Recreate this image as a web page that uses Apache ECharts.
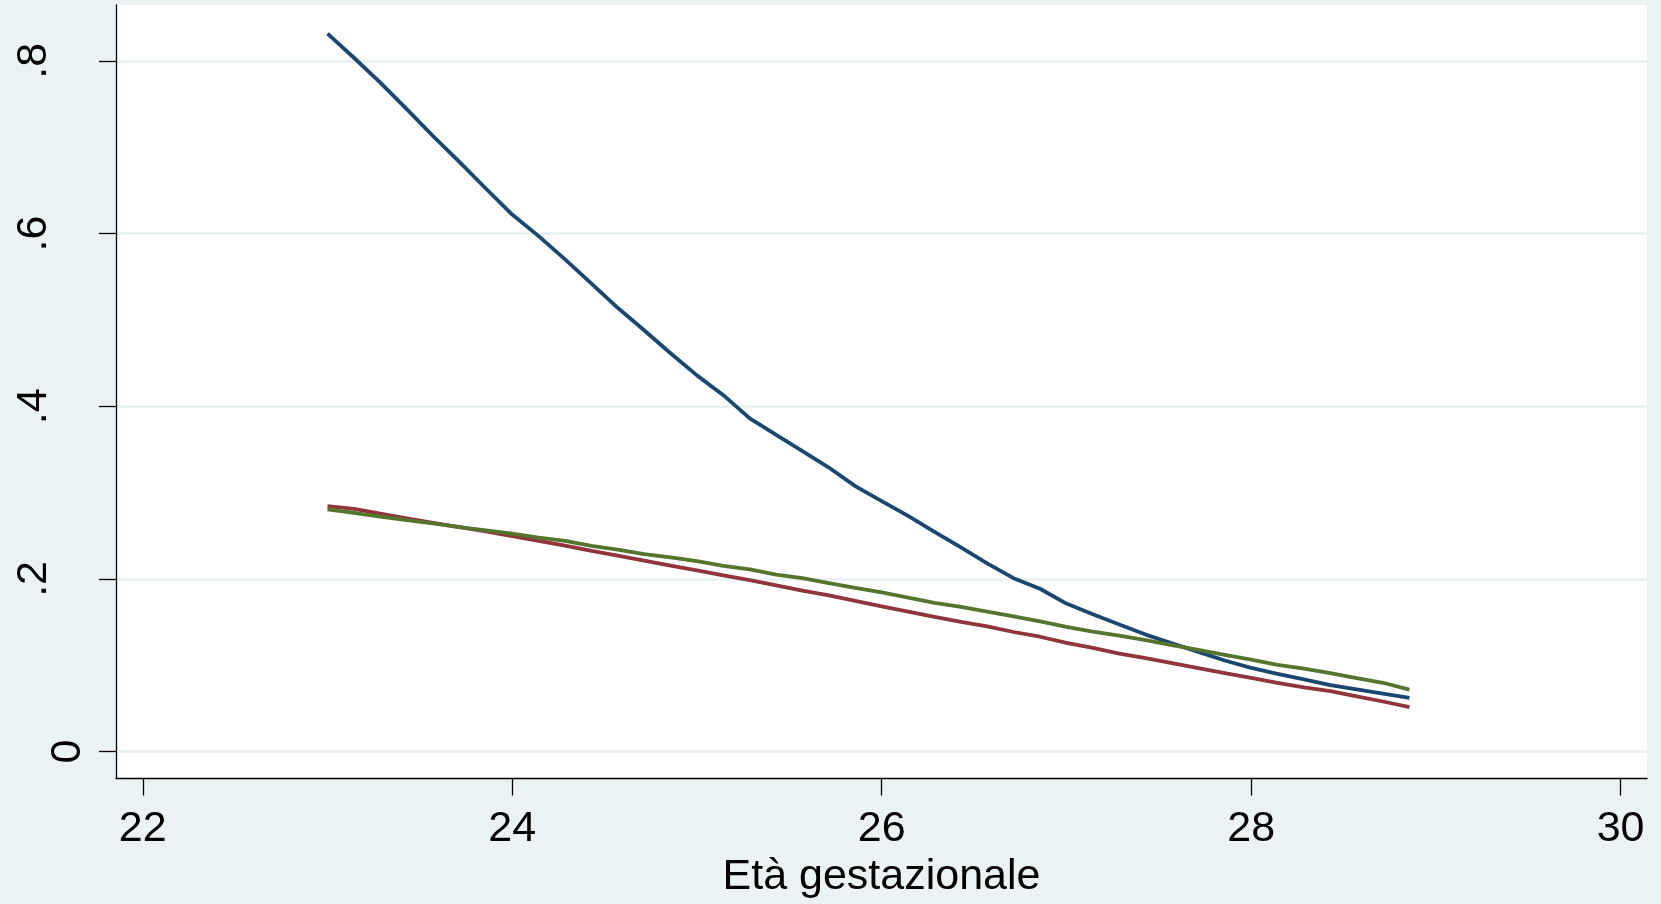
<!DOCTYPE html>
<html>
<head>
<meta charset="utf-8">
<script src="https://cdn.jsdelivr.net/npm/echarts@6/dist/echarts.min.js"></script>
<style>
    html, body { margin: 0; padding: 0; background: #eaf2f3; }
    #chart { width: 1661px; height: 904px; }
</style>
</head>
<body>
<div id="chart"></div>
<script>
// gestational age in weeks, one point per day
let gestAge = [
    23.000, 23.143, 23.286, 23.429, 23.571, 23.714, 23.857,
    24.000, 24.143, 24.286, 24.429, 24.571, 24.714, 24.857,
    25.000, 25.143, 25.286, 25.429, 25.571, 25.714, 25.857,
    26.000, 26.143, 26.286, 26.429, 26.571, 26.714, 26.857,
    27.000, 27.143, 27.286, 27.429, 27.571, 27.714, 27.857,
    28.000, 28.143, 28.286, 28.429, 28.571, 28.714, 28.857
];

let navyValues = [
    0.8315, 0.8036, 0.7748, 0.7441, 0.7130, 0.6829, 0.6522,
    0.6220, 0.5970, 0.5700, 0.5420, 0.5140, 0.4880, 0.4614,
    0.4357, 0.4128, 0.3859, 0.3668, 0.3480, 0.3290, 0.3074,
    0.2901, 0.2729, 0.2545, 0.2365, 0.2180, 0.2008, 0.1886,
    0.1714, 0.1590, 0.1472, 0.1355, 0.1254, 0.1155, 0.1055,
    0.0970, 0.0900, 0.0835, 0.0770, 0.0720, 0.0670, 0.0621
];

let maroonValues = [
    0.2844, 0.2810, 0.2755, 0.2700, 0.2650, 0.2600, 0.2550,
    0.2495, 0.2440, 0.2385, 0.2325, 0.2270, 0.2212, 0.2155,
    0.2100, 0.2040, 0.1985, 0.1925, 0.1865, 0.1809, 0.1745,
    0.1682, 0.1620, 0.1560, 0.1502, 0.1450, 0.1385, 0.1330,
    0.1260, 0.1200, 0.1135, 0.1082, 0.1025, 0.0967, 0.0909,
    0.0853, 0.0797, 0.0744, 0.0700, 0.0640, 0.0580, 0.0514
];

let greenValues = [
    0.2806, 0.2765, 0.2720, 0.2680, 0.2643, 0.2600, 0.2562,
    0.2525, 0.2478, 0.2440, 0.2383, 0.2340, 0.2288, 0.2250,
    0.2205, 0.2150, 0.2110, 0.2050, 0.2010, 0.1950, 0.1895,
    0.1845, 0.1783, 0.1722, 0.1675, 0.1620, 0.1565, 0.1508,
    0.1445, 0.1390, 0.1342, 0.1292, 0.1234, 0.1177, 0.1120,
    0.1065, 0.1005, 0.0962, 0.0910, 0.0852, 0.0797, 0.0717
];

let xTicks = [22, 24, 26, 28, 30];
let yTicks = [0, 0.2, 0.4, 0.6, 0.8];
let yTickLabels = ['0', '.2', '.4', '.6', '.8'];
let xTitle = 'Età gestazionale';

function pairUp(xs, ys) {
    let out = [];
    for (let i = 0; i < xs.length; i++) {
        out.push([xs[i], ys[i]]);
    }
    return out;
}

function makeLine(name, values, color) {
    return {
        name: name,
        type: 'line',
        data: pairUp(gestAge, values),
        showSymbol: false,
        symbol: 'none',
        silent: true,
        lineStyle: {
            color: color,
            width: 3.8,
            join: 'round'
        }
    };
}

let font = '"Liberation Sans", Arial, sans-serif';
let eChart = echarts.init(document.getElementById('chart'));

let option = {
    animation: false,
    backgroundColor: '#eaf2f3',
    textStyle: { fontFamily: font },
    grid: {
        left: 116,
        right: 14,
        top: 5,
        bottom: 118,
        show: true,
        backgroundColor: '#ffffff',
        borderWidth: 0
    },
    xAxis: {
        type: 'value',
        min: 21.855,
        max: 30.143,
        name: xTitle,
        nameLocation: 'middle',
        nameGap: 70,
        nameTextStyle: {
            fontSize: 43,
            lineHeight: 42,
            color: '#000',
            fontFamily: font
        },
        axisLine: {
            onZero: false,
            lineStyle: { color: '#000', width: 1.3 }
        },
        axisTick: {
            customValues: xTicks,
            length: 17,
            lineStyle: { color: '#000', width: 1.3 }
        },
        axisLabel: {
            customValues: xTicks,
            fontSize: 43,
            lineHeight: 42,
            color: '#000',
            margin: 30,
            fontFamily: font
        },
        splitLine: { show: false }
    },
    yAxis: {
        type: 'value',
        min: -0.0313,
        max: 0.8647,
        axisLine: {
            show: true,
            onZero: false,
            lineStyle: { color: '#000', width: 1.3 }
        },
        axisTick: {
            show: true,
            customValues: yTicks,
            length: 17,
            lineStyle: { color: '#000', width: 1.3 }
        },
        axisLabel: {
            customValues: yTicks,
            rotate: 90,
            margin: 27,
            formatter: function (v) {
                let idx = 0;
                for (let i = 0; i < yTicks.length; i++) {
                    if (Math.abs(yTicks[i] - v) < 1e-6) idx = i;
                }
                let txt = yTickLabels[idx];
                // Stata sets the decimal labels further out than the lone 0
                return txt.charAt(0) === '.' ? '{p|' + txt + '}' : '{z|' + txt + '}';
            },
            rich: {
                z: { fontSize: 43, lineHeight: 42, color: '#000', fontFamily: font },
                p: { fontSize: 43, lineHeight: 110, color: '#000', fontFamily: font }
            }
        },
        splitLine: {
            show: true,
            lineStyle: { color: '#eaf2f3', width: 3 }
        }
    },
    series: [
        makeLine('navy', navyValues, '#1a476f'),
        makeLine('maroon', maroonValues, '#90353b'),
        makeLine('green', greenValues, '#55752f')
    ]
};

eChart.setOption(option);
</script>
</body>
</html>
